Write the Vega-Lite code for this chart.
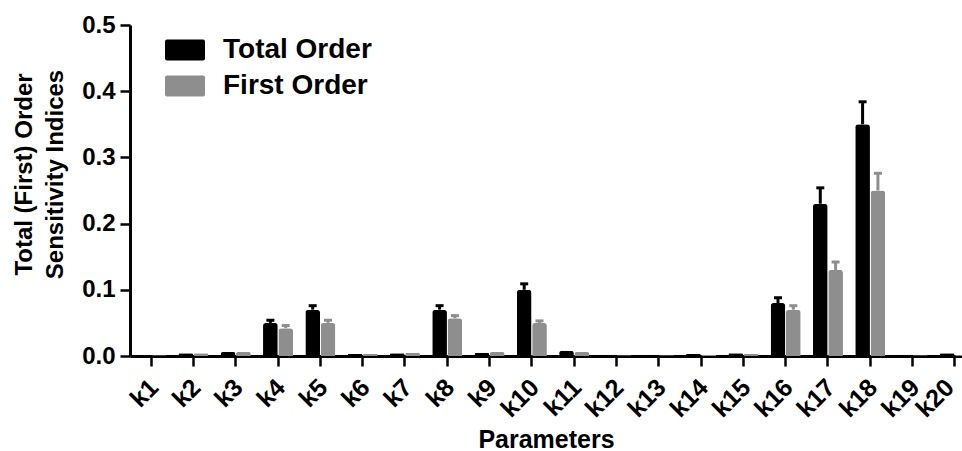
{
  "$schema": "https://vega.github.io/schema/vega-lite/v6.json",
  "autosize": {"type": "none"},
  "padding": {"left": 130, "top": 25, "right": 0, "bottom": 95},
  "width": 832,
  "height": 331,
  "background": "white",
  "config": {
    "view": {"stroke": null},
    "font": "Liberation Sans",
    "axis": {
      "domain": true,
      "ticks": true,
      "domainColor": "black",
      "domainWidth": 3,
      "tickColor": "black",
      "tickWidth": 2.5,
      "tickSize": 10,
      "labelColor": "black",
      "labelFont": "Liberation Sans",
      "labelFontWeight": "bold",
      "labelFontSize": 24,
      "titleColor": "black",
      "titleFont": "Liberation Sans",
      "titleFontWeight": "bold",
      "titleFontSize": 24,
      "grid": false
    }
  },
  "data": {
    "values": [
      {"param": "k1", "order": "Total Order", "value": 0.001, "upper": null},
      {"param": "k1", "order": "First Order", "value": 0.001, "upper": null},
      {"param": "k2", "order": "Total Order", "value": 0.004, "upper": null},
      {"param": "k2", "order": "First Order", "value": 0.004, "upper": null},
      {"param": "k3", "order": "Total Order", "value": 0.006, "upper": null},
      {"param": "k3", "order": "First Order", "value": 0.006, "upper": null},
      {"param": "k4", "order": "Total Order", "value": 0.05, "upper": 0.054},
      {"param": "k4", "order": "First Order", "value": 0.042, "upper": 0.046},
      {"param": "k5", "order": "Total Order", "value": 0.07, "upper": 0.076},
      {"param": "k5", "order": "First Order", "value": 0.05, "upper": 0.054},
      {"param": "k6", "order": "Total Order", "value": 0.003, "upper": null},
      {"param": "k6", "order": "First Order", "value": 0.003, "upper": null},
      {"param": "k7", "order": "Total Order", "value": 0.004, "upper": null},
      {"param": "k7", "order": "First Order", "value": 0.005, "upper": null},
      {"param": "k8", "order": "Total Order", "value": 0.07, "upper": 0.076},
      {"param": "k8", "order": "First Order", "value": 0.057, "upper": 0.061},
      {"param": "k9", "order": "Total Order", "value": 0.005, "upper": null},
      {"param": "k9", "order": "First Order", "value": 0.006, "upper": null},
      {"param": "k10", "order": "Total Order", "value": 0.1, "upper": 0.109},
      {"param": "k10", "order": "First Order", "value": 0.05, "upper": 0.053},
      {"param": "k11", "order": "Total Order", "value": 0.008, "upper": null},
      {"param": "k11", "order": "First Order", "value": 0.006, "upper": null},
      {"param": "k12", "order": "Total Order", "value": 0.002, "upper": null},
      {"param": "k12", "order": "First Order", "value": 0.001, "upper": null},
      {"param": "k13", "order": "Total Order", "value": 0.002, "upper": null},
      {"param": "k13", "order": "First Order", "value": 0.001, "upper": null},
      {"param": "k14", "order": "Total Order", "value": 0.003, "upper": null},
      {"param": "k14", "order": "First Order", "value": 0.002, "upper": null},
      {"param": "k15", "order": "Total Order", "value": 0.004, "upper": null},
      {"param": "k15", "order": "First Order", "value": 0.003, "upper": null},
      {"param": "k16", "order": "Total Order", "value": 0.08, "upper": 0.088},
      {"param": "k16", "order": "First Order", "value": 0.07, "upper": 0.076},
      {"param": "k17", "order": "Total Order", "value": 0.23, "upper": 0.254},
      {"param": "k17", "order": "First Order", "value": 0.13, "upper": 0.142},
      {"param": "k18", "order": "Total Order", "value": 0.35, "upper": 0.384},
      {"param": "k18", "order": "First Order", "value": 0.25, "upper": 0.276},
      {"param": "k19", "order": "Total Order", "value": 0.002, "upper": null},
      {"param": "k19", "order": "First Order", "value": 0.001, "upper": null},
      {"param": "k20", "order": "Total Order", "value": 0.004, "upper": null},
      {"param": "k20", "order": "First Order", "value": 0.002, "upper": null}
    ]
  },
  "encoding": {
    "x": {
      "field": "param",
      "type": "nominal",
      "sort": null,
      "scale": {"range": [0, 846], "paddingInner": 0.29, "paddingOuter": 0.145},
      "axis": {
        "title": "Parameters",
        "labelAngle": -45,
        "labelAlign": "right",
        "labelBaseline": "middle",
        "labelFontSize": 25,
        "labelPadding": 17,
        "labelOffset": {"condition": {"test": "datum.value === 'k20'", "value": -5}, "value": 3},
        "titleFontSize": 25,
        "titleX": 416,
        "titleY": 91,
        "titleBaseline": "alphabetic"
      }
    },
    "xOffset": {
      "field": "order",
      "type": "nominal",
      "sort": ["Total Order", "First Order"],
      "scale": {"paddingInner": 0.04}
    },
    "color": {
      "field": "order",
      "type": "nominal",
      "sort": ["Total Order", "First Order"],
      "scale": {"domain": ["Total Order", "First Order"], "range": ["#000000", "#8e8e8e"]}
    }
  },
  "layer": [
    {
      "mark": {"type": "bar", "cornerRadiusTopLeft": 3, "cornerRadiusTopRight": 3},
      "encoding": {
        "y": {
          "field": "value",
          "type": "quantitative",
          "scale": {"domain": [0, 0.5], "nice": false},
          "axis": {
            "title": ["Total (First) Order", "Sensitivity Indices"],
            "values": [0, 0.1, 0.2, 0.3, 0.4, 0.5],
            "format": ".1f",
            "labelPadding": 5,
            "titleAngle": -90,
            "titleLineHeight": 31,
            "titleBaseline": "alphabetic",
            "titleX": -99,
            "titleY": 149
          }
        },
        "color": {
          "field": "order",
          "type": "nominal",
          "sort": ["Total Order", "First Order"],
          "legend": {
            "title": null,
            "orient": "none",
            "legendX": 35,
            "legendY": 5,
            "padding": 0,
            "symbolType": "M-0.9,-0.525H0.9Q1,-0.525 1,-0.425V0.425Q1,0.525 0.9,0.525H-0.9Q-1,0.525 -1,0.425V-0.425Q-1,-0.525 -0.9,-0.525Z",
            "symbolSize": 1600,
            "symbolStrokeWidth": 0,
            "symbolOpacity": 1,
            "labelFont": "Liberation Sans",
            "labelFontWeight": "bold",
            "labelFontSize": 28,
            "labelColor": "black",
            "labelOffset": 18,
            "rowPadding": 2
          }
        }
      }
    },
    {
      "transform": [{"filter": "datum.upper != null"}],
      "mark": {"type": "rule", "strokeWidth": 3},
      "encoding": {
        "y": {"field": "value", "type": "quantitative"},
        "y2": {"field": "upper"}
      }
    },
    {
      "transform": [{"filter": "datum.upper != null"}],
      "mark": {"type": "tick", "thickness": 3, "size": 8, "opacity": 1},
      "encoding": {
        "y": {"field": "upper", "type": "quantitative"}
      }
    }
  ]
}
